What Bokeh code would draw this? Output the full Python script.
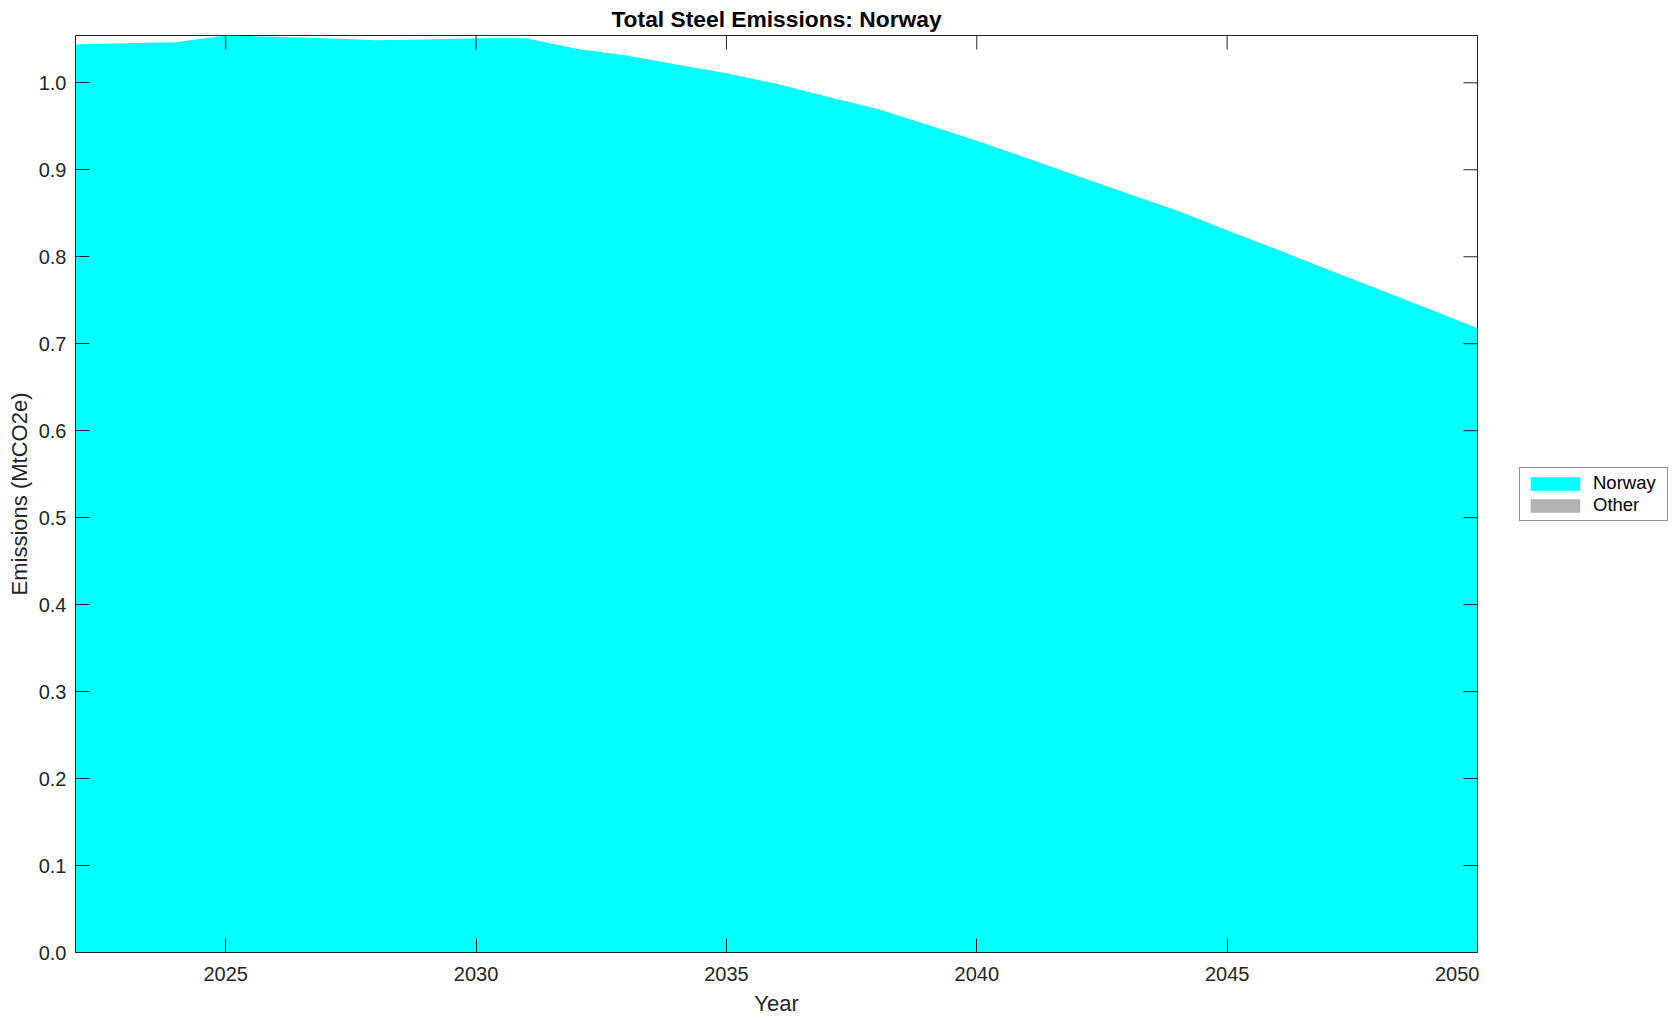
import math
from bokeh.plotting import figure
from bokeh.layouts import row
from bokeh.models import (ColumnDataSource, FixedTicker, Legend, LegendItem,
                          Range1d, NumeralTickFormatter)
from bokeh.embed import file_html
from bokeh.resources import INLINE

# ---- data ----
years = list(range(2022, 2051))
norway = [1.0440, 1.0455, 1.0467, 1.0544, 1.0529, 1.0513, 1.0490, 1.0498, 1.0513, 1.0513,
          1.0391, 1.0314, 1.0210, 1.0111, 0.9988, 0.9842, 0.9701, 0.9521, 0.9335, 0.9135,
          0.8930, 0.8730, 0.8531, 0.8306, 0.8082, 0.7857, 0.7632, 0.7408, 0.7178]
other = [0.0] * len(years)
series_names = ["Norway", "Other"]
series_colors = ["#00FFFF", "#B3B3B3"]
x_ticks = [2025, 2030, 2035, 2040, 2045, 2050]
y_ticks = [0.0, 0.1, 0.2, 0.3, 0.4, 0.5, 0.6, 0.7, 0.8, 0.9, 1.0]

total = [a + b for a, b in zip(norway, other)]
x_lo, x_hi = min(years), max(years)
y_hi = max(total)
src = ColumnDataSource(dict(year=years, Norway=norway, Other=other))

FONT = "Liberation Sans"
AX = "#262626"

# ---------------- main chart ----------------
p = figure(width=1479, height=1021,
           x_range=Range1d(x_lo, x_hi), y_range=Range1d(0, y_hi),
           output_backend="svg", toolbar_location=None,
           title="Total Steel Emissions: Norway")
p.min_border_left = 75
p.min_border_right = 2
p.min_border_top = 35
p.min_border_bottom = 69
p.background_fill_color = "white"
p.border_fill_color = "white"
p.outline_line_color = AX
p.outline_line_width = 1
p.xgrid.visible = False
p.ygrid.visible = False

p.title.align = "center"
p.title.text_font = FONT
p.title.text_font_size = "22.8px"
p.title.text_font_style = "bold"
p.title.text_color = "black"
p.title.standoff = 7
p.title.offset = 0

p.varea_stack(series_names, x="year", source=src, color=series_colors)

# inward ticks on the top and right edges (box-style axes)
p.scatter(x=x_ticks, y=[y_hi] * len(x_ticks), marker="dash", angle=math.pi / 2,
          size=28, line_color=AX, line_width=1)
p.scatter(x=[x_hi] * len(y_ticks), y=y_ticks, marker="dash",
          size=28, line_color=AX, line_width=1)

p.xaxis.ticker = FixedTicker(ticks=x_ticks)
p.yaxis.ticker = FixedTicker(ticks=y_ticks)
p.yaxis.formatter = NumeralTickFormatter(format="0.0")
p.xaxis.axis_label = "Year"
p.yaxis.axis_label = "Emissions (MtCO2e)"
for ax in p.xaxis + p.yaxis:
    ax.axis_line_color = AX
    ax.major_tick_line_color = AX
    ax.major_tick_in = 14
    ax.major_tick_out = 0
    ax.minor_tick_line_color = None
    ax.major_label_text_font = FONT
    ax.major_label_text_font_size = "20px"
    ax.major_label_text_color = AX
    ax.axis_label_text_font = FONT
    ax.axis_label_text_font_size = "22px"
    ax.axis_label_text_font_style = "normal"
    ax.axis_label_text_color = AX
p.xaxis.major_label_standoff = 14
p.xaxis.axis_label_standoff = 7
p.yaxis.major_label_standoff = 9
p.yaxis.axis_label_standoff = 4

# ---------------- legend strip on the right ----------------
lg = figure(width=200, height=1021, x_range=Range1d(x_lo, x_hi), y_range=Range1d(0, y_hi),
            output_backend="svg", toolbar_location=None)
lg.min_border = 0
lg.axis.visible = False
lg.grid.visible = False
lg.outline_line_color = None
lg.background_fill_color = "white"
lg.border_fill_color = "white"
legend_renderers = lg.varea_stack(series_names, x="year", source=src, color=series_colors)
for r in legend_renderers:
    r.visible = False

legend = Legend(items=[LegendItem(label=n, renderers=[r]) for n, r in zip(series_names, legend_renderers)],
                location=(40, 431), orientation="vertical")
legend.glyph_width = 62
legend.glyph_height = 17
legend.label_height = 17
legend.label_width = 70
legend.label_standoff = 7
legend.spacing = 0
legend.padding = 4
legend.margin = 0
legend.label_text_font = FONT
legend.label_text_font_size = "18.5px"
legend.label_text_color = "black"
legend.border_line_color = AX
legend.border_line_width = 1
legend.background_fill_color = "white"
legend.background_fill_alpha = 1
legend.inactive_fill_alpha = 0
lg.add_layout(legend)

layout = row(p, lg, spacing=0)
open("out.html", "w").write(file_html(layout, INLINE))
